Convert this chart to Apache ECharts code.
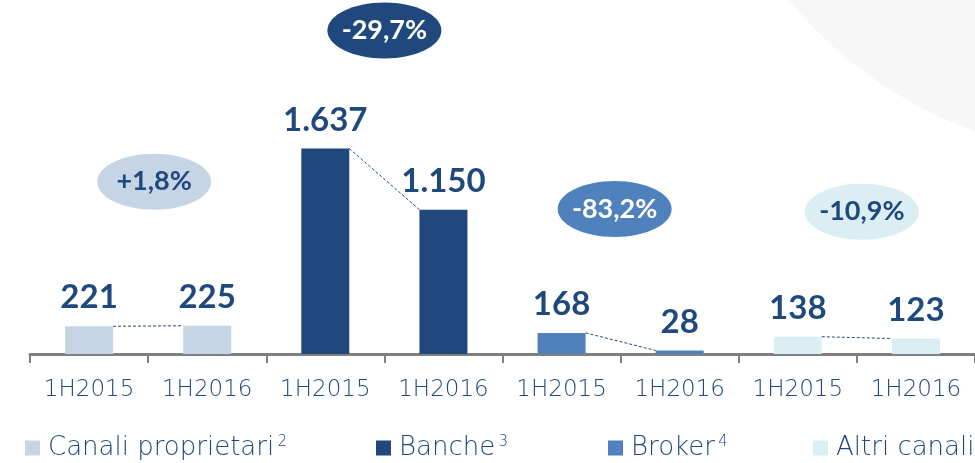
<!DOCTYPE html>
<html>
<head>
<meta charset="utf-8">
<script src="https://cdn.jsdelivr.net/npm/echarts@6/dist/echarts.min.js"></script>
<style>
  html, body { margin: 0; padding: 0; background: #fff; }
  #chart { width: 975px; height: 463px; }
</style>
</head>
<body>
<div id="chart"></div>
<script>
// dati del grafico
var categories = ['1H2015', '1H2016', '1H2015', '1H2016', '1H2015', '1H2016', '1H2015', '1H2016'];
var groups = ['Canali proprietari', 'Banche', 'Broker', 'Altri canali'];
var footnotes = ['2', '3', '4', ''];
var canaliProprietari = [221, 225];
var banche = [1637, 1150];
var broker = [168, 28];
var altriCanali = [138, 123];
var changes = ['+1,8%', '-29,7%', '-83,2%', '-10,9%'];

var groupValues = [canaliProprietari, banche, broker, altriCanali];

// stile
var colors = ['#c6d5e5', '#1f497d', '#4f81bd', '#daeef3'];
var badgeText = ['#1f497d', '#ffffff', '#ffffff', '#1f497d'];
var badgeLift = [144, 118, 124, 125];
var badgeShift = [6, 0, -6, 5];
var legendLeft = [20, 371, 603, 808];
var darkBlue = '#1f497d';
var boldFont = 'Lato, "Noto Sans", sans-serif';
var thinFont = '"DejaVu Sans", sans-serif';
var barW = 48;

// formato italiano 1.637
function fmt(v) {
  return String(v).replace(/\B(?=(\d{3})+(?!\d))/g, '.');
}

var chart = echarts.init(document.getElementById('chart'));

var series = groups.map(function (name, g) {
  var data = categories.map(function (c, i) {
    return Math.floor(i / 2) === g ? groupValues[g][i % 2] : '-';
  });
  return {
    name: name,
    type: 'bar',
    stack: 'tutti',
    barWidth: barW,
    data: data,
    itemStyle: { color: colors[g] },
    label: {
      show: true,
      position: 'top',
      distance: 12,
      color: darkBlue,
      fontFamily: boldFont,
      fontWeight: 'bold',
      fontSize: 33,
      formatter: function (p) { return fmt(p.value); }
    }
  };
});

// linee tratteggiate tra le barre
series.push({
  name: 'connettori',
  type: 'custom',
  z: 3,
  data: groups.map(function (n, g) {
    return [2 * g, groupValues[g][0], 2 * g + 1, groupValues[g][1]];
  }),
  renderItem: function (params, api) {
    var a = api.coord([api.value(0), api.value(1)]);
    var b = api.coord([api.value(2), api.value(3)]);
    return {
      type: 'line',
      shape: { x1: a[0] + barW / 2, y1: a[1], x2: b[0] - barW / 2, y2: b[1] },
      style: { stroke: darkBlue, lineWidth: 1, lineDash: [3, 2] }
    };
  }
});

// ellissi con le variazioni
series.push({
  name: 'variazioni',
  type: 'custom',
  z: 4,
  data: groups.map(function (n, g) {
    return [2 * g, 2 * g + 1, Math.max(groupValues[g][0], groupValues[g][1]), g];
  }),
  renderItem: function (params, api) {
    var g = api.value(3);
    var a = api.coord([api.value(0), api.value(2)]);
    var b = api.coord([api.value(1), api.value(2)]);
    var cx = (a[0] + b[0]) / 2 + badgeShift[g];
    var cy = a[1] - badgeLift[g];
    return {
      type: 'group',
      children: [{
        type: 'ellipse',
        shape: { cx: cx, cy: cy, rx: 57, ry: 28 },
        style: { fill: colors[g] }
      }, {
        type: 'text',
        x: cx,
        y: cy,
        style: {
          text: changes[g],
          fill: badgeText[g],
          font: 'bold 27px ' + boldFont,
          align: 'center',
          verticalAlign: 'middle'
        }
      }]
    };
  }
});

// una legenda per voce, come nella slide
var legends = groups.map(function (name, g) {
  return {
    data: [name],
    left: legendLeft[g],
    bottom: -3,
    itemWidth: 15,
    itemHeight: 15,
    icon: 'rect',
    selectedMode: false,
    formatter: function (n) {
      var s = footnotes[groups.indexOf(n)];
      return '{n|' + n + '}' + (s ? ' {s|' + s + '}' : '');
    },
    textStyle: {
      padding: [0, 0, 0, 3],
      rich: {
        n: { fontFamily: thinFont, fontWeight: 200, fontSize: 26, color: darkBlue },
        s: { fontFamily: thinFont, fontWeight: 200, fontSize: 15, color: darkBlue, padding: [0, 0, 12, 0] }
      }
    }
  };
});

var option = {
  animation: false,
  backgroundColor: '#ffffff',
  graphic: [{
    type: 'circle',
    shape: { cx: 1115, cy: -265, r: 420 },
    style: { fill: '#f7f7f7' },
    z: -10
  }],
  grid: { left: 30, width: 949, top: 103, height: 251 },
  legend: legends,
  xAxis: {
    type: 'category',
    data: categories,
    axisLine: { lineStyle: { color: '#808080', width: 3 } },
    axisTick: { show: true, length: 9, lineStyle: { color: '#808080', width: 2 } },
    axisLabel: { margin: 25, color: darkBlue, fontFamily: thinFont, fontWeight: 200, fontSize: 23 }
  },
  yAxis: {
    type: 'value',
    min: 0,
    max: 2000,
    show: false
  },
  series: series
};

chart.setOption(option);
</script>
</body>
</html>
